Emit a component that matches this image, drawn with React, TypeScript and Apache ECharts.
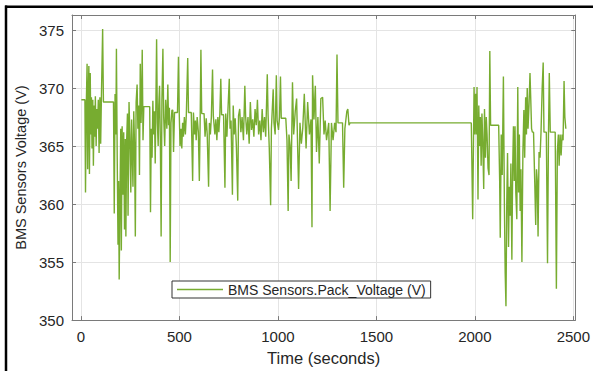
import React, { useEffect, useRef } from "react";
import * as echarts from "echarts";

const seriesName = "BMS Sensors.Pack_Voltage (V)";
const xTitle = "Time (seconds)";
const yTitle = "BMS Sensors Voltage (V)";
const xRange = [-45.6, 2510];
const yRange = [350, 376.3];
const yStep = 5;

// first driving segment: [time s, voltage V]
const drive1: [number, number][] = [
  [2, 369.0], [20, 369.0], [23, 361.0], [27, 368.5], [31, 372.1], [34, 363.0], [37, 369.0], [40, 371.9],
  [43, 362.6], [47, 371.3], [50, 366.0], [53, 369.2], [56, 364.8], [60, 369.0], [63, 363.3], [67, 368.5],
  [70, 365.8], [73, 369.3], [77, 365.0], [80, 368.2], [84, 366.5], [88, 369.0], [92, 364.4], [96, 369.2],
  [100, 365.2], [104, 369.5], [110, 375.1], [114, 368.8], [165, 368.8], [169, 359.2], [173, 369.5], [177, 366.0],
  [180, 373.4], [184, 364.0], [188, 356.5], [191, 362.0], [194, 353.5], [198, 360.5], [202, 366.5], [205, 356.0],
  [209, 366.7], [213, 360.8], [217, 366.2], [221, 357.8], [225, 365.6], [228, 357.2], [232, 365.5], [236, 367.8],
  [239, 359.0], [244, 368.8], [248, 366.0], [253, 361.0], [257, 367.3], [261, 364.0], [264, 361.5], [268, 368.0],
  [272, 365.0], [276, 357.2], [280, 368.8], [285, 370.3], [289, 366.5], [293, 368.5], [297, 362.5], [301, 372.1],
  [305, 367.0], [308, 369.0], [311, 373.3], [315, 365.5], [319, 368.4], [349, 368.4], [353, 359.3], [357, 366.5],
  [361, 364.0], [365, 368.9], [369, 366.0], [373, 368.0], [377, 363.5], [384, 374.2], [388, 367.0], [392, 365.0],
  [395, 368.5], [399, 370.2], [403, 365.5], [407, 357.2], [411, 369.0], [416, 373.4], [420, 367.5], [425, 365.0],
  [430, 369.0], [436, 366.5], [441, 370.3], [445, 366.8], [449, 368.3], [453, 355.0], [457, 367.0], [462, 368.1],
  [466, 368.1], [470, 364.5], [475, 367.9], [490, 367.9], [495, 372.7], [499, 367.8], [503, 365.0], [508, 366.5],
  [512, 364.8], [516, 367.0], [520, 365.8], [525, 367.5], [530, 366.0], [535, 367.7], [542, 372.6], [546, 367.9],
  [560, 367.9], [567, 362.0], [571, 367.9], [577, 366.0], [581, 367.2], [585, 365.5], [590, 367.5], [596, 366.2],
  [601, 362.0], [605, 367.0], [609, 373.3], [613, 367.8], [625, 367.8], [630, 365.8], [636, 367.4], [641, 366.0],
  [648, 361.5], [652, 367.0], [657, 366.0], [662, 367.5], [668, 371.6], [672, 367.6], [680, 366.0], [685, 367.3],
  [690, 365.5], [695, 367.5], [700, 366.2], [705, 367.7], [710, 370.8], [714, 367.7], [724, 367.7], [731, 361.4],
  [735, 367.8], [741, 365.8], [746, 368.0], [753, 370.8], [757, 366.5], [762, 367.2], [769, 360.8], [773, 368.5],
  [778, 366.0], [783, 367.4], [789, 365.0], [796, 360.3], [800, 367.6], [806, 368.2], [812, 366.2], [818, 367.5],
  [825, 365.5], [832, 370.2], [836, 367.6], [842, 366.0], [848, 367.5], [854, 365.2], [860, 368.8], [866, 366.4],
  [872, 367.3], [878, 365.8], [884, 368.2], [890, 366.8], [896, 369.0], [902, 366.0], [908, 367.2], [914, 365.5],
  [920, 368.2], [926, 366.2], [932, 367.5], [938, 365.8], [946, 371.2], [950, 367.7], [956, 364.9], [963, 359.9],
  [967, 366.5], [976, 369.9], [980, 367.0], [986, 366.0], [992, 371.1], [996, 367.2], [1003, 366.4], [1008, 367.5],
  [1013, 371.0], [1017, 367.4], [1040, 367.4], [1046, 365.5], [1052, 359.4], [1056, 366.0], [1062, 365.0], [1067, 362.0],
  [1074, 370.5], [1080, 366.0], [1088, 368.0], [1095, 369.1], [1100, 365.0], [1105, 361.3], [1112, 367.0], [1119, 365.2],
  [1126, 366.5], [1134, 369.5], [1143, 364.8], [1151, 368.8], [1160, 366.0], [1168, 367.3], [1173, 358.0], [1176, 371.1],
  [1183, 367.3], [1190, 370.2], [1196, 364.5], [1203, 367.5], [1210, 363.5], [1218, 369.1], [1227, 369.2], [1234, 366.0],
  [1240, 367.2], [1247, 365.5], [1258, 367.0], [1265, 359.4], [1272, 367.0], [1280, 365.5], [1288, 367.0], [1295, 366.2],
  [1300, 372.9], [1305, 367.0], [1328, 367.0], [1334, 361.4], [1340, 366.5], [1350, 368.0], [1355, 368.2], [1361, 366.8],
];

// parked / idle segment
const idle: [number, number][] = [
  [1366, 367.0], [1982, 367.0],
];

// second driving segment
const drive2: [number, number][] = [
  [1989, 358.7], [1996, 370.1], [2000, 366.0], [2004, 369.5], [2008, 366.0], [2011, 370.1], [2016, 360.4], [2020, 368.5],
  [2024, 365.0], [2028, 367.5], [2032, 363.3], [2036, 367.8], [2040, 365.5], [2045, 361.3], [2049, 368.2], [2054, 364.0],
  [2058, 367.5], [2062, 366.0], [2067, 363.1], [2072, 362.5], [2076, 373.2], [2080, 366.8], [2121, 366.8], [2126, 362.0],
  [2129, 357.1], [2134, 366.0], [2139, 362.5], [2145, 371.0], [2150, 360.0], [2154, 354.1], [2158, 351.2], [2162, 360.0],
  [2166, 364.4], [2171, 356.3], [2175, 361.5], [2179, 359.0], [2183, 363.5], [2188, 355.2], [2192, 363.0], [2196, 366.7],
  [2200, 362.0], [2204, 366.7], [2208, 361.0], [2213, 358.7], [2218, 370.1], [2222, 361.0], [2226, 366.0], [2230, 359.4],
  [2234, 363.0], [2239, 355.0], [2244, 364.5], [2249, 368.1], [2253, 364.0], [2258, 369.2], [2262, 366.0], [2266, 370.0],
  [2270, 366.5], [2275, 368.5], [2280, 371.3], [2284, 369.0], [2288, 366.5], [2292, 366.2], [2298, 366.2], [2304, 362.0],
  [2309, 358.2], [2313, 363.0], [2317, 362.0], [2321, 357.2], [2326, 364.5], [2331, 364.0], [2336, 366.2], [2342, 370.1],
  [2347, 372.2], [2351, 366.2], [2363, 366.2], [2369, 354.9], [2374, 366.2], [2378, 371.3], [2383, 366.2], [2408, 366.2],
  [2414, 352.7], [2419, 364.5], [2424, 366.0], [2428, 363.3], [2433, 366.0], [2438, 364.2], [2443, 366.0], [2448, 365.5],
  [2453, 370.6], [2457, 367.5], [2462, 366.5],
];

const FONT = "'Liberation Sans', Arial, Helvetica, sans-serif";
const AXIS_COLOR = "#7a7a7a";
const TEXT_COLOR = "#262626";
const GRID_COLOR = "#e4e4e4";
const LINE_COLOR = "#77AC30";

export default function App() {
  const ref = useRef<HTMLDivElement>(null);
  useEffect(() => {
    if (!ref.current) return;
    const chart = echarts.init(ref.current, null, { renderer: "svg" });
    const data = [...drive1, ...idle, ...drive2];
    const boxAxis = {
      axisLine: { show: true, onZero: false, lineStyle: { color: AXIS_COLOR, width: 1 } },
      axisTick: { show: true, inside: true, length: 4, lineStyle: { color: AXIS_COLOR } },
    };
    const plain = (v: number) => String(v);
    chart.setOption({
      animation: false,
      backgroundColor: "#ffffff",
      grid: { left: 72, right: 16, top: 15, bottom: 44 },
      xAxis: [
        {
          type: "value",
          min: xRange[0],
          max: xRange[1],
          splitNumber: 5,
          ...boxAxis,
          axisLabel: {
            showMinLabel: false,
            showMaxLabel: false,
            formatter: plain,
            color: TEXT_COLOR,
            fontSize: 15,
            fontFamily: FONT,
            margin: 9,
          },
          splitLine: { show: true, lineStyle: { color: GRID_COLOR } },
          name: xTitle,
          nameLocation: "middle",
          nameGap: 23,
          nameTextStyle: { color: TEXT_COLOR, fontSize: 16.5, fontFamily: FONT },
        },
        {
          type: "value",
          position: "top",
          min: xRange[0],
          max: xRange[1],
          splitNumber: 5,
          ...boxAxis,
          axisLabel: { show: false },
          splitLine: { show: false },
        },
      ],
      yAxis: [
        {
          type: "value",
          min: yRange[0],
          max: yRange[1],
          interval: yStep,
          ...boxAxis,
          axisLabel: {
            showMaxLabel: false,
            formatter: plain,
            color: TEXT_COLOR,
            fontSize: 15,
            fontFamily: FONT,
            margin: 8,
          },
          splitLine: { show: true, lineStyle: { color: GRID_COLOR } },
          name: yTitle,
          nameLocation: "middle",
          nameGap: 43,
          nameTextStyle: { color: TEXT_COLOR, fontSize: 14.5, fontFamily: FONT },
        },
        {
          type: "value",
          position: "right",
          min: yRange[0],
          max: yRange[1],
          interval: yStep,
          ...boxAxis,
          axisLabel: { show: false },
          splitLine: { show: false },
        },
      ],
      legend: {
        show: true,
        data: [{ name: seriesName, icon: "rect" }],
        left: 172,
        top: 281,
        backgroundColor: "#ffffff",
        borderColor: "#333333",
        borderWidth: 1,
        borderRadius: 0,
        padding: [1, 5, 1, 5],
        itemWidth: 46,
        itemHeight: 1.6,
        itemStyle: { color: LINE_COLOR },
        textStyle: { color: TEXT_COLOR, fontSize: 14, fontFamily: FONT, lineHeight: 15 },
      },
      series: [
        {
          name: seriesName,
          type: "line",
          data,
          xAxisIndex: 0,
          yAxisIndex: 0,
          symbol: "none",
          showSymbol: false,
          color: LINE_COLOR,
          lineStyle: { color: LINE_COLOR, width: 1.4 },
        },
      ],
      graphic: [
        {
          type: "line",
          shape: { x1: 5, y1: 6.7, x2: 593, y2: 6.7 },
          style: { stroke: "#000000", lineWidth: 2.5 },
          z: 100,
        },
        {
          type: "line",
          shape: { x1: 6, y1: 5.5, x2: 6, y2: 371 },
          style: { stroke: "#000000", lineWidth: 2.5 },
          z: 100,
        },
      ],
    });
    return () => chart.dispose();
  }, []);
  return (
    <div
      ref={ref}
      style={{ position: "fixed", left: 0, top: 0, width: 593, height: 371, background: "#fff" }}
    />
  );
}
